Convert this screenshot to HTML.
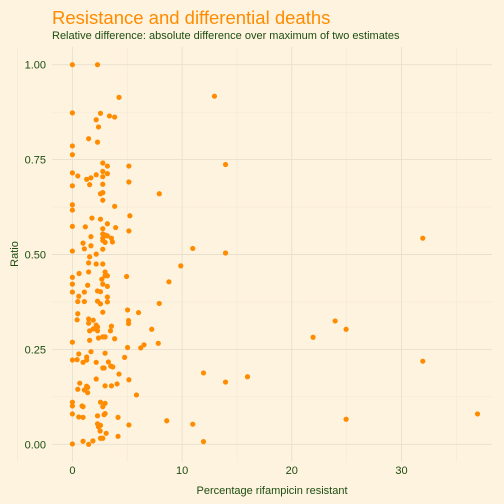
<!DOCTYPE html>
<html><head><meta charset="utf-8"><style>
body{margin:0;background:#fef3de;}
svg{display:block;font-family:"Liberation Sans",sans-serif;}
</style></head><body>
<svg id="chart" width="504" height="504">
<rect width="504" height="504" fill="#fef3de"/>
<text x="52" y="24" font-size="18.5" fill="#ff8c00">Resistance and differential deaths</text>
<text x="52" y="39" font-size="11" fill="#1d4d12">Relative difference: absolute difference over maximum of two estimates</text>
<g id="grid"></g>
<g id="ticks"></g>
<g id="pts"></g>
<text x="272" y="494" font-size="11" fill="#1d4d12" text-anchor="middle">Percentage rifampicin resistant</text>
<text transform="translate(18,254) rotate(-90)" font-size="11" fill="#1d4d12" text-anchor="middle">Ratio</text>
</svg>
<script>
const xVals=[0,2.29,4.25,0,2.56,3.38,3.85,2.17,2.38,1.48,2.29,0,0,2.77,3.19,5.15,0,0.49,2.77,3.19,2.77,2.17,1.69,1.30,0,1.57,2.77,5.15,7.92,2.56,2.77,2.77,0,0,3.85,5.24,1.78,2.56,3.19,0,1.18,3.94,2.77,5.15,2.77,2.98,3.19,1.69,2.77,3.56,0.97,2.98,3.65,2.77,1.69,1.09,2.77,0,2.17,
1.57,1.48,2.17,2.77,0.61,1.48,2.98,2.98,3.19,4.94,0,2.68,0,2.77,1.39,3.19,8.8,0,1.09,2.29,2.56,0.58,3.19,0.49,1.09,2.29,3.19,2.56,7.92,5.03,6.03,2.77,0.49,0.43,1.48,1.90,1.48,5.12,5.12,2.17,2.29,3.56,1.90,1.57,2.29,3.47,7.23,2.77,2.98,2.38,1.57,3.85,0,7.83,5.03,6.23,6.53,1.69,0.58,2.98,1.30,0,0.43,1.30,4.76,0.97,2.17,3.28,3.50,3.68,2.89,2.77,4.25,5.15,2.17,0.67,4.07,2.98,3.56,1.30,0.49,1.39,1.09,1.39,5.84,0,0,0.97,0.88,2.56,2.98,2.77,0,0.58,0.97,2.29,2.89,2.98,4.16,2.29,2.56,2.38,5.15,2.53,3.08,2.56,2.77,4.16,0,0.97,1.48,1.87,8.6,
12.95,13.96,10.97,13.96,9.88,31.94,23.95,24.95,21.94,31.94,11.95,13.96,15.96,10.97,11.95,24.95,36.93];
const yVals=[1.00,1.00,0.914,0.873,0.872,0.865,0.862,0.855,0.836,0.805,0.796,0.786,0.763,0.741,0.733,0.733,0.715,0.707,0.719,0.713,0.705,0.710,0.702,0.698,0.681,0.684,0.685,0.691,0.660,0.660,0.663,0.643,0.631,0.617,0.627,0.602,0.596,0.593,0.581,0.574,0.573,0.571,0.568,0.562,0.554,0.551,0.549,0.547,0.543,0.543,0.530,0.532,0.533,0.537,0.523,0.515,0.514,0.509,0.501,
0.494,0.478,0.475,0.475,0.450,0.454,0.454,0.444,0.444,0.442,0.440,0.435,0.422,0.422,0.419,0.416,0.428,0.401,0.401,0.404,0.402,0.390,0.388,0.376,0.376,0.377,0.375,0.370,0.371,0.354,0.347,0.348,0.344,0.328,0.330,0.327,0.319,0.326,0.318,0.314,0.309,0.311,0.304,0.299,0.299,0.299,0.303,0.283,0.283,0.280,0.274,0.278,0.269,0.266,0.255,0.254,0.262,0.244,0.238,0.240,0.230,0.222,0.223,0.222,0.229,0.216,0.216,0.217,0.206,0.204,0.201,0.201,0.185,0.170,0.172,0.161,0.159,0.154,0.154,0.153,0.145,0.150,0.143,0.136,0.130,0.111,0.101,0.099,0.101,0.111,0.108,0.099,0.080,0.072,0.071,0.075,0.078,0.081,0.071,0.054,0.050,0.046,0.051,0.035,0.029,0.016,0.016,0.021,0.001,0.008,0.000,0.009,0.062,
0.917,0.737,0.516,0.504,0.470,0.543,0.325,0.303,0.282,0.219,0.188,0.164,0.178,0.053,0.007,0.066,0.080];
const xTicks=[0,10,20,30];
const yTicks=[0,0.25,0.5,0.75,1.0];
const yTickLabels=["0.00","0.25","0.50","0.75","1.00"];
const NS="http://www.w3.org/2000/svg";
const L=52,R=492,T=47,B=462;
const xs=v=>72.4+v*10.97;
const ys=v=>444.3-v*379.6;
const grid=document.getElementById('grid'),tk=document.getElementById('ticks'),pts=document.getElementById('pts');
function line(x1,y1,x2,y2,c,w,name){const l=document.createElementNS(NS,'line');l.setAttribute('x1',x1);l.setAttribute('y1',y1);l.setAttribute('x2',x2);l.setAttribute('y2',y2);l.setAttribute('stroke',c);l.setAttribute('stroke-width',w);


grid.appendChild(l);}
for(let i=0;i<xTicks.length;i++){const v=xTicks[i];line(xs(v+5),T,xs(v+5),B,'#f3e8d6',0.6,'x-minor-gridline');}
line(xs(-5)+0,T,xs(-5),B,'#f3e8d6',0.6,'x-minor-gridline');
for(let i=0;i<yTicks.length-1;i++){const v=(yTicks[i]+yTicks[i+1])/2;line(L,ys(v),R,ys(v),'#f3e8d6',0.6,'y-minor-gridline');}
xTicks.forEach(v=>{line(xs(v),T,xs(v),B,'#e8dfcf',0.9,'x-gridline');
const t=document.createElementNS(NS,'text');t.setAttribute('x',xs(v));t.setAttribute('y',474);t.setAttribute('text-anchor','middle');t.setAttribute('font-size','11');t.setAttribute('fill','#1d4d12');t.textContent=v;


tk.appendChild(t);});
yTicks.forEach((v,i)=>{line(L,ys(v),R,ys(v),'#e8dfcf',0.9,'y-gridline');
const t=document.createElementNS(NS,'text');t.setAttribute('x',46);t.setAttribute('y',ys(v)+4);t.setAttribute('text-anchor','end');t.setAttribute('font-size','11');t.setAttribute('fill','#1d4d12');t.textContent=yTickLabels[i];


tk.appendChild(t);});
for(let i=0;i<xVals.length;i++){const c=document.createElementNS(NS,'circle');c.setAttribute('cx',xs(xVals[i]));c.setAttribute('cy',ys(yVals[i]));c.setAttribute('r',2.6);c.setAttribute('fill','#ff8c00');


pts.appendChild(c);}
</script>
</body></html>
